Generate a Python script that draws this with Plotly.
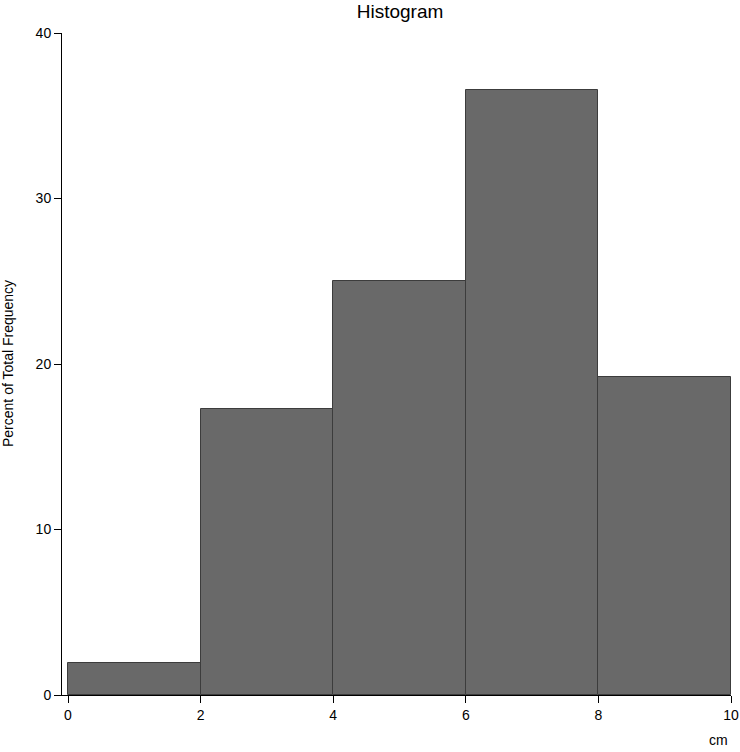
import plotly.graph_objects as go

bin_edges = [0, 2, 4, 6, 8, 10]
percent = [1.92, 17.31, 25.0, 36.54, 19.23]
y_ticks = [0, 10, 20, 30, 40]
x_ticks = [0, 2, 4, 6, 8, 10]

centers = [(bin_edges[i] + bin_edges[i + 1]) / 2 for i in range(len(percent))]
widths = [bin_edges[i + 1] - bin_edges[i] for i in range(len(percent))]

FONT = "Arial, Liberation Sans, Helvetica, sans-serif"

fig = go.Figure(go.Bar(
    x=centers, y=percent, width=widths,
    marker=dict(color="#696969", line=dict(color="#3c3c3c", width=1)),
    hoverinfo="skip",
))

W, H = 740, 752
L, R, T, B = 62, 9, 33, 57
fig.update_layout(
    width=W, height=H,
    margin=dict(l=L, r=R, t=T, b=B, autoexpand=False),
    plot_bgcolor="white", paper_bgcolor="white",
    font=dict(family=FONT, size=14, color="black"),
    showlegend=False,
    bargap=0,
    title=dict(text="Histogram", x=(400 - L) / (W - L - R), xref="paper", xanchor="center",
               y=1 - 11 / H, yref="container", yanchor="middle",
               font=dict(family=FONT, size=19, color="black")),
    xaxis=dict(range=[-0.0905, 10], tickvals=x_ticks, ticktext=[str(v) for v in x_ticks],
               showline=True, linecolor="black", linewidth=1, ticks="outside", ticklen=7,
               tickcolor="black", showgrid=False, zeroline=False, fixedrange=True),
    yaxis=dict(range=[0, 40], tickvals=y_ticks, ticktext=[str(v) for v in y_ticks],
               showline=True, linecolor="black", linewidth=1, ticks="outside", ticklen=7,
               tickcolor="black", showgrid=False, zeroline=False, fixedrange=True),
    annotations=[
        dict(text="Percent of Total Frequency", xref="paper", yref="paper", x=0, y=0.5,
             xshift=-54, textangle=-90, showarrow=False, xanchor="center", yanchor="middle",
             font=dict(family=FONT, size=14, color="black")),
        dict(text="cm", xref="paper", yref="paper", x=(718 - L) / (W - L - R), y=0,
             yshift=-45, showarrow=False, xanchor="center", yanchor="middle",
             font=dict(family=FONT, size=14, color="black")),
    ],
)

fig.write_html("out.html", config={"displayModeBar": False},
               post_script="document.body.style.margin='0';")
